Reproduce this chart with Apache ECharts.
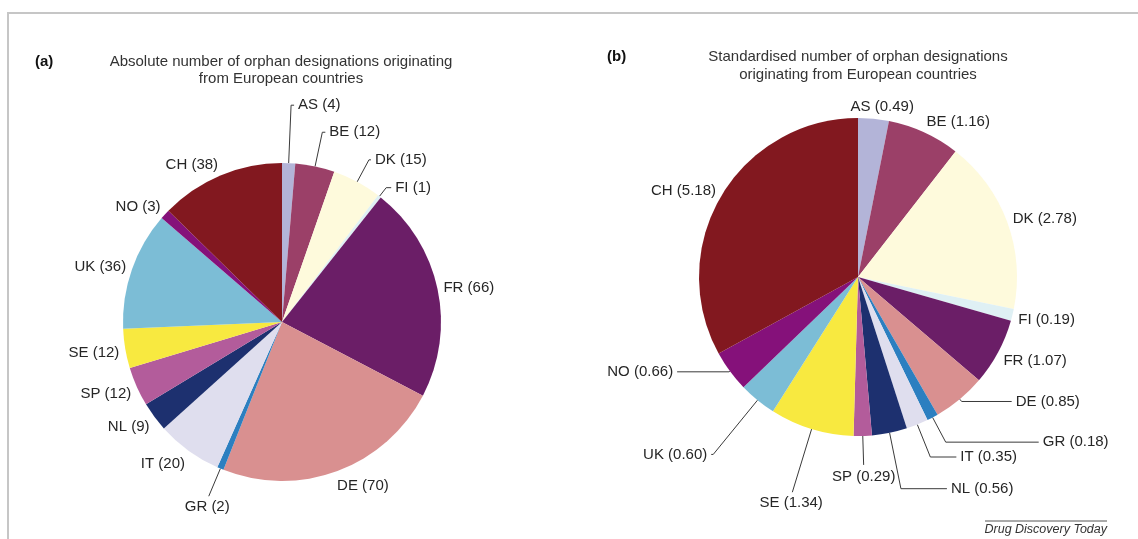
<!DOCTYPE html>
<html>
<head>
<meta charset="utf-8">
<script src="https://cdn.jsdelivr.net/npm/echarts@6/dist/echarts.min.js"></script>
<style>
  html, body { margin: 0; padding: 0; background: #fff; }
  #chart { width: 1138px; height: 539px; }
</style>
</head>
<body>
<div id="chart"></div>
<script>
const countries = ["AS", "BE", "DK", "FI", "FR", "DE", "GR", "IT", "NL", "SP", "SE", "UK", "NO", "CH"];
const absoluteCounts = [4, 12, 15, 1, 66, 70, 2, 20, 9, 12, 12, 36, 3, 38];
const standardisedCounts = [0.49, 1.16, 2.78, 0.19, 1.07, 0.85, 0.18, 0.35, 0.56, 0.29, 1.34, 0.60, 0.66, 5.18];

const sliceColors = [
  "#b3b4d8", "#9b4068", "#fefadc", "#dff0f4", "#6b1e67", "#d99090", "#2c7fc0",
  "#dfdeee", "#1d306f", "#b35c9b", "#f8e940", "#7cbdd6", "#85117a", "#82181f"
];

// leader lines: radial length, horizontal length, visible or not
const absLen1 = [58, 35, 25, 11, 2, 2, 30, 2, 2, 2, 2, 2, 2, 2];
const absLen2 = [3, 3, 2, 5, 0, 0, 0, 0, 0, 0, 0, 0, 0, 0];
const absShown = [1, 1, 1, 1, 0, 0, 1, 0, 0, 0, 0, 0, 0, 0];
const stdLen1 = [2, 2, 2, 2, 2, 3, 28, 35, 57, 29, 66, 70, 1, 2];
const stdLen2 = [0, 0, 0, 0, 0, 50, 93, 26, 46, 0, 0, 2, 52, 0];
const stdShown = [0, 0, 0, 0, 0, 1, 1, 1, 1, 1, 1, 1, 1, 0];

const FONT = "'Liberation Sans', Arial, Helvetica, sans-serif";
const GAP = 4;

function buildData(values, len1, len2, shown) {
  return values.map(function (v, i) {
    return {
      name: countries[i],
      value: v,
      itemStyle: { color: sliceColors[i] },
      labelLine: {
        show: true,
        length: len1[i],
        length2: len2[i],
        lineStyle: { opacity: shown[i] ? 1 : 0 }
      }
    };
  });
}

// put each label just past the end of its leader line
function placeLabels(len2, shown) {
  return function (p) {
    const pts = p.labelLinePoints;
    if (!pts) return {};
    const a = pts[0], b = pts[1], c = pts[2];
    let dx = b[0] - a[0], dy = b[1] - a[1];
    const n = Math.hypot(dx, dy) || 1;
    dx /= n; dy /= n;
    const w = p.labelRect.width, h = p.labelRect.height;
    if (len2[p.dataIndex] > 0) {
      const s = c[0] < b[0] ? -1 : 1;
      return { x: c[0] + s * (GAP + w / 2), y: c[1], align: "center", verticalAlign: "middle", labelLinePoints: pts };
    }
    const free = !shown[p.dataIndex];
    const kx = free ? Math.max(-1, Math.min(1, dx * 2.6)) : 0;
    return {
      x: c[0] + dx * GAP + kx * w / 2,
      y: c[1] + dy * GAP + dy * h / 2 + (free ? 2 : 0),
      align: "center",
      verticalAlign: "middle",
      labelLinePoints: pts
    };
  };
}

function pieSeries(values, center, len1, len2, shown, decimals) {
  return {
    type: "pie",
    center: center,
    radius: 159,
    startAngle: 90,
    clockwise: true,
    avoidLabelOverlap: false,
    silent: true,
    itemStyle: { borderWidth: 0 },
    label: {
      show: true,
      position: "outside",
      fontFamily: FONT,
      fontSize: 15,
      color: "#262626",
      formatter: function (p) {
        return p.name + " (" + p.value.toFixed(decimals) + ")";
      }
    },
    labelLine: { smooth: false, lineStyle: { color: "#3a3a3a", width: 1 } },
    labelLayout: placeLabels(len2, shown),
    data: buildData(values, len1, len2, shown)
  };
}

const chart = echarts.init(document.getElementById("chart"));

const option = {
  animation: false,
  backgroundColor: "#fff",
  graphic: [
    {
      type: "polyline",
      shape: { points: [[8, 539], [8, 13], [1138, 13]] },
      style: { stroke: "#c6c6c6", lineWidth: 2, fill: null }
    },
    {
      type: "text", x: 35, y: 62,
      style: { text: "(a)", font: "bold 15px " + FONT, fill: "#111", align: "left", verticalAlign: "middle" }
    },
    {
      type: "text", x: 281, y: 53,
      style: {
        text: "Absolute number of orphan designations originating\nfrom European countries",
        font: "15px " + FONT, fill: "#333", align: "center", verticalAlign: "top", lineHeight: 17
      }
    },
    {
      type: "text", x: 607, y: 57,
      style: { text: "(b)", font: "bold 15px " + FONT, fill: "#111", align: "left", verticalAlign: "middle" }
    },
    {
      type: "text", x: 858, y: 48,
      style: {
        text: "Standardised number of orphan designations\noriginating from European countries",
        font: "15px " + FONT, fill: "#333", align: "center", verticalAlign: "top", lineHeight: 18
      }
    },
    {
      type: "line",
      shape: { x1: 985, y1: 521, x2: 1107, y2: 521 },
      style: { stroke: "#555", lineWidth: 1 }
    },
    {
      type: "text", x: 1107, y: 530,
      style: { text: "Drug Discovery Today", font: "italic 12.5px " + FONT, fill: "#333", align: "right", verticalAlign: "middle" }
    }
  ],
  series: [
    pieSeries(absoluteCounts, [282, 322], absLen1, absLen2, absShown, 0),
    pieSeries(standardisedCounts, [858, 277], stdLen1, stdLen2, stdShown, 2)
  ]
};

chart.setOption(option);
</script>
</body>
</html>
